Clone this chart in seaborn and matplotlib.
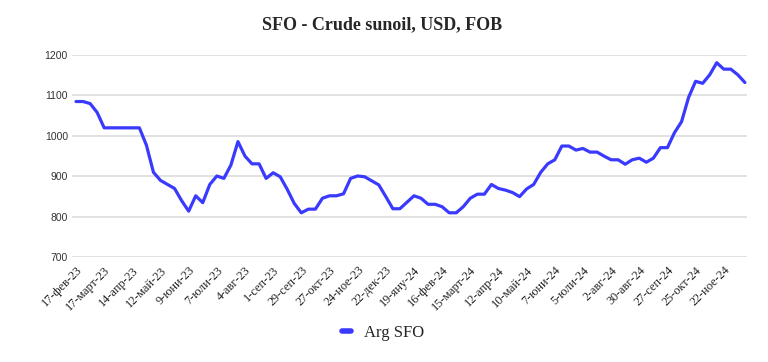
import numpy as np
import pandas as pd
import matplotlib
matplotlib.use("Agg")
import matplotlib.pyplot as plt
import seaborn as sns

# Weekly prices, starting 17-Feb-2023
start_date = "2023-02-17"
prices = [
    1085, 1085, 1080, 1058, 1020, 1020, 1020, 1020, 1020, 1020,
    977, 910, 890, 880, 870, 840, 814, 852, 835, 880,
    901, 895, 928, 986, 950, 931, 931, 895, 909, 899,
    868, 833, 810, 819, 819, 846, 852, 852, 857, 895,
    901, 899, 889, 879, 850, 820, 820, 836, 852, 846,
    831, 831, 825, 810, 810, 825, 846, 856, 856, 880,
    870, 866, 860, 850, 869, 880, 910, 931, 941, 975,
    975, 965, 969, 960, 960, 950, 941, 941, 930, 941,
    945, 935, 945, 971, 971, 1008, 1035, 1095, 1135, 1130,
    1151, 1181, 1165, 1165, 1151, 1132,
]
tick_labels = [
    "17-фев-23", "17-март-23", "14-апр-23", "12-май-23", "9-юни-23", "7-юли-23",
    "4-авг-23", "1-сеп-23", "29-сеп-23", "27-окт-23", "24-ное-23", "22-дек-23",
    "19-яну-24", "16-фев-24", "15-март-24", "12-апр-24", "10-май-24", "7-юни-24",
    "5-юли-24", "2-авг-24", "30-авг-24", "27-сеп-24", "25-окт-24", "22-ное-24",
]
y_ticks = [700, 800, 900, 1000, 1100, 1200]
series_name = "Arg SFO"
title = "SFO - Crude sunoil, USD, FOB"

df = pd.DataFrame({
    "date": pd.date_range(start_date, periods=len(prices), freq="7D"),
    "price": prices,
})
df["pos"] = np.arange(len(df))
df["series"] = series_name

sns.set_theme(style="white")
plt.rcParams["font.family"] = ["Liberation Serif", "DejaVu Serif"]

fig = plt.figure(figsize=(7.68, 3.62), dpi=100)
ax = fig.add_axes([72 / 768, 1 - 257.3 / 362, (747 - 72) / 768, (257.3 - 55) / 362])

sns.lineplot(data=df, x="pos", y="price", hue="series", palette=["#3a3aff"],
             linewidth=2.3, ax=ax, legend=True)

ax.set_ylim(700, 1200)
ax.set_xlim(-0.57, 95.3)
ax.set_yticks(y_ticks)
ax.set_yticklabels([str(v) for v in y_ticks], fontsize=7.5, color="#333333",
                   family=["Liberation Sans", "DejaVu Sans"])
ax.set_xticks(df["pos"].iloc[::4].tolist())
ax.set_xticklabels(tick_labels, rotation=45, ha="right", rotation_mode="anchor",
                   fontsize=8.8, color="#222222")
ax.tick_params(axis="both", length=0, pad=3)
ax.tick_params(axis="x", pad=5)
ax.grid(axis="y", color="#dddddd", linewidth=1.2)
ax.grid(axis="x", visible=False)
for s in ax.spines.values():
    s.set_visible(False)
ax.set_xlabel("")
ax.set_ylabel("")

fig.suptitle(title, x=0.497, y=0.955, fontsize=13, fontweight="bold")

handles, labels = ax.get_legend_handles_labels()
ax.get_legend().remove()
fig.legend(handles, labels, loc="center", bbox_to_anchor=(0.499, 1 - 333 / 362),
           frameon=False, fontsize=12, handlelength=0.55, handletextpad=0.8)
for h in fig.legends[0].get_lines():
    h.set_linewidth(4)

fig.savefig("out.png", dpi=100)
